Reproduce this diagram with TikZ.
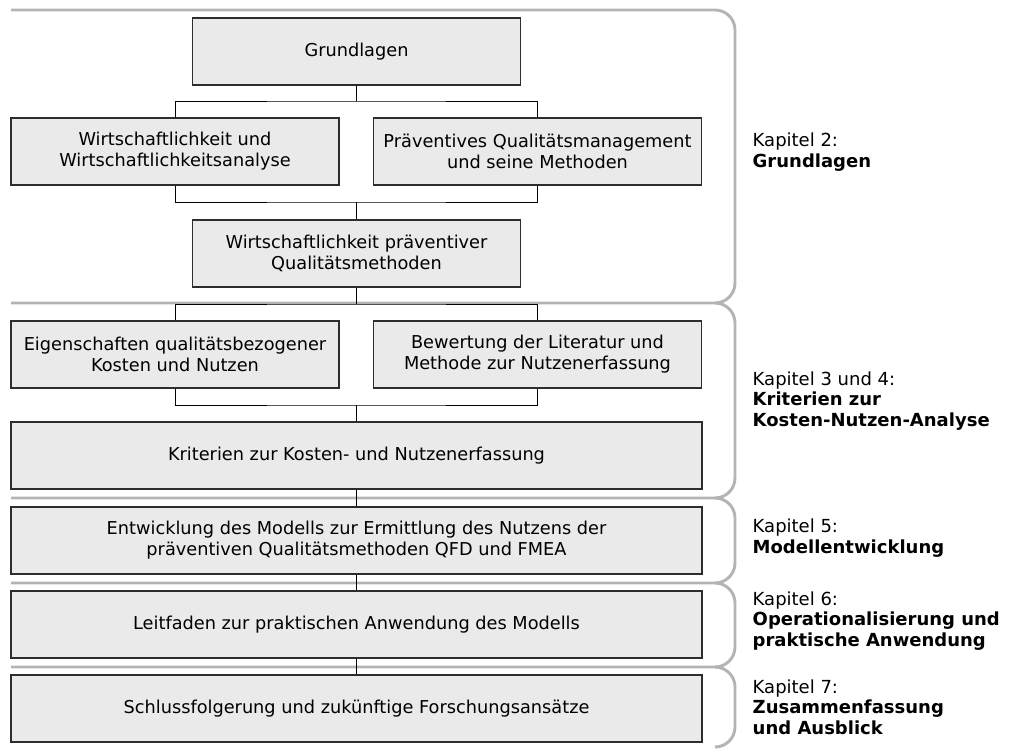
\documentclass[tikz,border=0pt]{standalone}
\usepackage{fontspec}
\setmainfont{DejaVu Sans}
\usetikzlibrary{positioning, calc}
\definecolor{stagefill}{RGB}{234, 234, 234}
\definecolor{stageline}{RGB}{45, 45, 45}
\definecolor{bracegray}{RGB}{180, 180, 180}
\newcommand{\stagefont}{\fontsize{13.3}{15.6}\selectfont}
\newcommand{\chapterfont}{\fontsize{13.5}{15.4}\selectfont}
\tikzstyle{stage} = [rectangle, minimum width=246pt, minimum height=50.25pt, inner sep=2pt, align=center, draw=stageline, line width=0.8pt, fill=stagefill, font=\stagefont]
\tikzstyle{widestage} = [stage, minimum width=518.25pt]
\tikzstyle{link} = [line width=0.75pt, black]
\tikzstyle{bracket} = [line width=2.2pt, bracegray, rounded corners=15pt]
\tikzstyle{chapter} = [anchor=west, align=left, font=\chapterfont]

\begin{document}
\begin{tikzpicture}[x=0.75pt, y=-0.75pt]
\useasboundingbox (0,0) rectangle (1013,749);

% gray chapter brackets
\draw[bracket] (11,10) -- (735,10) -- (735,303) -- (11,303);
\draw[bracket] (715,303) -- (735,303) -- (735,498) -- (11,498);
\draw[bracket] (715,498) -- (735,498) -- (735,583) -- (11,583);
\draw[bracket] (715,583) -- (735,583) -- (735,667) -- (11,667);
\draw[bracket] (715,667) -- (735,667) -- (735,747) -- (715,747);

% Kapitel 2
\node (grund) [stage] at (356.5,51.5) {Grundlagen};
\node (wirt) [stage] at (175,151.5) {Wirtschaftlichkeit und\\Wirtschaftlichkeitsanalyse};
\node (praev) [stage] at (537.5,151.5) {Präventives Qualitätsmanagement\\und seine Methoden};
\node (wpqm) [stage] at (356.5,253.5) {Wirtschaftlichkeit präventiver\\Qualitätsmethoden};

% Kapitel 3 und 4
\node (eigen) [stage] at (175,354.5) {Eigenschaften qualitätsbezogener\\Kosten und Nutzen};
\node (bewert) [stage] at (537.5,354.5) {Bewertung der Literatur und\\Methode zur Nutzenerfassung};
\node (krit) [widestage] at (356.5,455.5) {Kriterien zur Kosten- und Nutzenerfassung};

% Kapitel 5 bis 7
\node (modell) [widestage] at (356.5,540.5) {Entwicklung des Modells zur Ermittlung des Nutzens der\\präventiven Qualitätsmethoden QFD und FMEA};
\node (leit) [widestage] at (356.5,624.5) {Leitfaden zur praktischen Anwendung des Modells};
\node (schluss) [widestage] at (356.5,708.5) {Schlussfolgerung und zukünftige Forschungsansätze};

% connectors
\coordinate (j1) at (356.5,101);
\coordinate (j2) at (356.5,202);
\coordinate (j3) at (356.5,304);
\coordinate (j4) at (356.5,405);
\draw[link] (grund.south) -- (j1);
\draw[link] (wirt.north) |- (j1) -| (praev.north);
\draw[link] (wirt.south) |- (j2) -| (praev.south);
\draw[link] (j2) -- (wpqm.north);
\draw[link] (wpqm.south) -- (j3);
\draw[link] (eigen.north) |- (j3) -| (bewert.north);
\draw[link] (eigen.south) |- (j4) -| (bewert.south);
\draw[link] (j4) -- (krit.north);
\draw[link] (krit.south) -- (modell.north);
\draw[link] (modell.south) -- (leit.north);
\draw[link] (leit.south) -- (schluss.north);

% chapter labels
\node (k2) [chapter] at (748,152) {Kapitel 2:\\\textbf{Grundlagen}};
\node (k34) [chapter] at (748,401) {Kapitel 3 und 4:\\\textbf{Kriterien zur}\\\textbf{Kosten-Nutzen-Analyse}};
\node (k5) [chapter] at (748,538) {Kapitel 5:\\\textbf{Modellentwicklung}};
\node (k6) [chapter] at (748,621) {Kapitel 6:\\\textbf{Operationalisierung und}\\\textbf{praktische Anwendung}};
\node (k7) [chapter] at (748,707) {Kapitel 7:\\\textbf{Zusammenfassung}\\\textbf{und Ausblick}};
\end{tikzpicture}
\end{document}
